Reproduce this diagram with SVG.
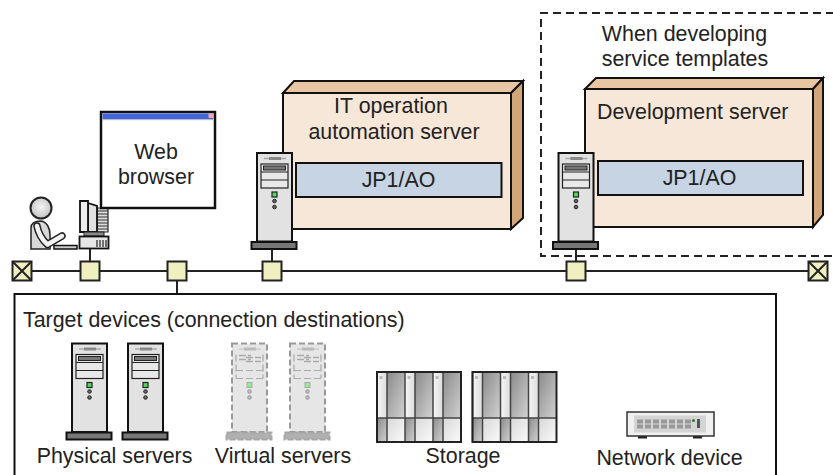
<svg xmlns="http://www.w3.org/2000/svg" width="833" height="475" viewBox="0 0 833 475">
<style>
text{font-family:"Liberation Sans",Arial,sans-serif;font-size:21.4px;fill:#222}
.m{text-anchor:middle}
.line{fill:none;stroke:#222;stroke-width:2}
.jack{fill:#f0efc0;stroke:#222;stroke-width:2}
.front{fill:#f7e7d8;stroke:#111;stroke-width:2}
.top{fill:#e8c6a4;stroke:#111;stroke-width:2}
.side{fill:#d2a679;stroke:#111;stroke-width:2}
.app{fill:#c6d4e4;stroke:#111;stroke-width:2}
.tower{fill:#e2e2e2;stroke:#111;stroke-width:2}
.thin{fill:#e8e8e8;stroke:#222;stroke-width:1.2}
.vt{fill:#e6e6e6;stroke:#999;stroke-width:2;stroke-dasharray:6 3}
.vthin{fill:none;stroke:#aaa;stroke-width:1.2;stroke-dasharray:7 3}
</style>
<defs>
<linearGradient id="dk" x1="0" y1="0" x2="1" y2="1"><stop offset="0" stop-color="#8a8a8a"/><stop offset="1" stop-color="#d2d2d2"/></linearGradient>
<linearGradient id="lt" x1="0" y1="0" x2="1" y2="0"><stop offset="0" stop-color="#f6f6f6"/><stop offset="1" stop-color="#dcdcdc"/></linearGradient>
<linearGradient id="lw" x1="0" y1="0" x2="1" y2="1"><stop offset="0" stop-color="#d8d8d8"/><stop offset="1" stop-color="#fbfbfb"/></linearGradient>
<radialGradient id="hd" cx=".5" cy=".45" r=".6"><stop offset="0" stop-color="#f4f4f4"/><stop offset="1" stop-color="#bdbdbd"/></radialGradient>
<g id="server">
<rect class="tower" x="0" y="0" width="35" height="88.500"/>
<path d="M7 5.500H29" stroke="#aaa" stroke-width="1.500"/><path d="M12 5.500H24" stroke="#888" stroke-width="3"/>
<rect class="thin" x="4" y="11" width="27" height="24"/>
<path d="M4 19H31M4 27H31" stroke="#222" stroke-width="1.200"/>
<rect x="6.500" y="13" width="22" height="4" fill="#777" stroke="#222"/>
<rect x="15" y="39" width="5" height="5" fill="#4ddf5a" stroke="#222" stroke-width="1.200"/>
<circle cx="17.500" cy="48" r="1.800" fill="#666" stroke="#222"/>
<circle cx="17.500" cy="54" r="1.800" fill="#666" stroke="#222"/>
<rect x="-5.500" y="89" width="45" height="7" fill="#777" stroke="#111" stroke-width="2"/>
</g>
<g id="vserver">
<rect class="vt" x="0" y="0" width="35" height="88.500"/>
<path d="M7 5.500H29" stroke="#ccc" stroke-width="1.500"/><path d="M12 5.500H24" stroke="#bbb" stroke-width="3"/>
<path class="vthin" d="M4 11V35M31 11V35M4 27H31M4 35H31"/>
<path d="M7 12H19M14 14H29M7 16H19M14 18H29" stroke="#aaa" stroke-width="1.300" stroke-dasharray="7 2"/>
<rect x="15" y="39" width="5" height="5" fill="#8cf08f" stroke="#aaa"/>
<circle cx="17.500" cy="48" r="1.800" fill="#bbb" stroke="#999"/>
<circle cx="17.500" cy="54" r="1.800" fill="#bbb" stroke="#999"/>
<rect x="-5.500" y="89" width="45" height="7" fill="#b0b0b0" stroke="#a5a5a5" stroke-width="2" stroke-dasharray="6 2"/>
</g>
<g id="bay">
<rect x="0" y="0" width="10" height="46" fill="url(#lt)"/>
<rect x="10" y="0" width="18" height="46" fill="url(#dk)"/>
<rect x="0" y="46" width="10" height="24" fill="url(#dk)"/>
<rect x="10" y="46" width="18" height="24" fill="url(#lw)"/>
<rect x="2.500" y="4" width="3" height="3" fill="#bbb"/>
<path d="M0 0V70M10 0V70M0 46H28" stroke="#444" stroke-width="1.500" fill="none"/>
</g>
<g id="rack3">
<use href="#bay"/><use href="#bay" x="28"/><use href="#bay" x="56"/>
<rect x="0" y="0" width="84" height="70" fill="none" stroke="#222" stroke-width="2"/>
</g>
<g id="port"><rect x="0" y="0" width="6" height="4" fill="#999"/><rect x="0" y="5" width="6" height="4" fill="#999"/></g>
</defs>

<g id="dashed-area"><path d="M834 13H541V256H834" fill="none" stroke="#222" stroke-width="2" stroke-dasharray="8 5"/></g>

<g id="connectors">
<path class="line" d="M22 271H818M90 249V261M272 249V261M576 249V261M177 281V294"/>
</g>

<g id="jacks">
<g id="term-left"><rect class="jack" x="12.500" y="261.500" width="19" height="19"/><path d="M12.500 261.500L31.500 280.500M31.500 261.500L12.500 280.500" stroke="#222" stroke-width="2"/></g>
<rect id="jack-1" class="jack" x="80.500" y="261.500" width="19" height="19"/>
<rect id="jack-2" class="jack" x="167.500" y="261.500" width="19" height="19"/>
<rect id="jack-3" class="jack" x="262.500" y="261.500" width="19" height="19"/>
<rect id="jack-4" class="jack" x="566.500" y="261.500" width="19" height="19"/>
<g id="term-right"><rect class="jack" x="808.500" y="261.500" width="19" height="19"/><path d="M808.500 261.500L827.500 280.500M827.500 261.500L808.500 280.500" stroke="#222" stroke-width="2"/></g>
</g>

<g id="user">
<circle cx="41" cy="208" r="10.500" fill="url(#hd)" stroke="#222" stroke-width="2"/>
<path d="M31 249V228C31 223 35 221 41 221C47 222 50 228 50 235V249Z" fill="#d8d8d8" stroke="#222" stroke-width="1.500"/>
<path d="M37 226C38 232 42 240 47.500 244.500L62 236" fill="none" stroke="#222" stroke-width="7.500" stroke-linecap="round" stroke-linejoin="round"/>
<path d="M37 226C38 232 42 240 47.500 244.500L62 236" fill="none" stroke="#f2f2f2" stroke-width="4.500" stroke-linecap="round" stroke-linejoin="round"/>
<rect x="54" y="245.500" width="23" height="3.500" fill="#ccc" stroke="#111" stroke-width="1.500"/>
<path d="M97 208H108V232H97Z" fill="#ddd" stroke="#222" stroke-width="1.200"/>
<path d="M97 211H108M97 214H108M97 217H108M97 220H108M97 223H108M97 226H108M97 229H108" stroke="#333"/>
<path d="M88 203L97 206V232H88Z" fill="#e0e0e0" stroke="#111" stroke-width="1.800"/>
<path d="M80 201H88V232H80Z" fill="#eee" stroke="#111" stroke-width="1.800"/>
<rect x="84" y="232" width="20" height="4" fill="#888" stroke="#222"/>
<rect x="79.500" y="236.500" width="29" height="12" fill="#e6e6e6" stroke="#111" stroke-width="1.800"/>
<path d="M97 240V247M100 240V247M103 240V247M106 240V247" stroke="#222" stroke-width="1.200"/>
</g>

<g id="web-browser">
<rect x="101" y="112" width="114" height="96" fill="#fff" stroke="#111" stroke-width="2.500"/>
<rect x="102.500" y="113.500" width="111" height="5.500" fill="#4265dc"/>
<rect x="102.500" y="119" width="111" height="1.200" fill="#bbb"/>
<rect x="208.500" y="113.500" width="5" height="4.500" fill="#f2a8a8"/>
<text class="m" x="156" y="158.500">Web</text>
<text class="m" x="156" y="183.500">browser</text>
</g>

<g id="it-operation-server">
<path class="top" d="M283 93L294 81H523L511 93Z"/>
<path class="side" d="M511 93L523 81V218L511 229Z"/>
<rect class="front" x="283" y="93" width="228" height="136"/>
<text class="m" x="391" y="113">IT operation</text>
<text class="m" x="394" y="138.500">automation server</text>
<rect class="app" x="296" y="163" width="205.500" height="34"/>
<text class="m" x="398.500" y="187">JP1/AO</text>
<use href="#server" x="257" y="153"/>
</g>

<g id="development-server">
<path class="top" d="M585 89L596 78H823L813 89Z"/>
<path class="side" d="M813 89L823 78V215L813 227Z"/>
<rect class="front" x="585" y="89" width="228" height="138"/>
<text x="597" y="118.500">Development server</text>
<rect class="app" x="598" y="161" width="205" height="34"/>
<text class="m" x="699.500" y="185">JP1/AO</text>
<use href="#server" x="558.500" y="153"/>
</g>

<text class="m" x="684.500" y="41">When developing</text>
<text class="m" x="685" y="66">service templates</text>

<g id="target-devices">
<path d="M14.500 476V294H776V476" fill="none" stroke="#111" stroke-width="2"/>
<text x="23" y="326.500">Target devices (connection destinations)</text>
</g>

<g id="physical-servers">
<use href="#server" x="72" y="343.500"/>
<use href="#server" x="128" y="343.500"/>
<text class="m" x="114.500" y="463">Physical servers</text>
</g>
<g id="virtual-servers">
<use href="#vserver" x="232" y="343.500"/>
<use href="#vserver" x="290" y="343.500"/>
<text class="m" x="283" y="463">Virtual servers</text>
</g>
<g id="storage">
<use href="#rack3" x="377" y="372"/>
<use href="#rack3" x="472.500" y="372"/>
<text class="m" x="463" y="463">Storage</text>
</g>
<g id="network-device">
<rect x="638" y="436" width="9" height="2.500" fill="#222"/>
<rect x="693" y="436" width="9" height="2.500" fill="#222"/>
<rect x="627" y="412" width="87" height="24" fill="#f0f0f0" stroke="#333" stroke-width="1.500"/>
<rect x="634" y="415.500" width="72" height="17" fill="#d4d4d4"/>
<use href="#port" x="637" y="419.500"/><use href="#port" x="645" y="419.500"/><use href="#port" x="653" y="419.500"/><use href="#port" x="661" y="419.500"/><use href="#port" x="669" y="419.500"/><use href="#port" x="677" y="419.500"/><use href="#port" x="685" y="419.500"/>
<circle cx="693.500" cy="420.500" r="1.500" fill="#2a7a3a"/>
<rect x="697" y="419" width="3" height="9" fill="#555"/>
<text class="m" x="669.500" y="465">Network device</text>
</g>
</svg>
